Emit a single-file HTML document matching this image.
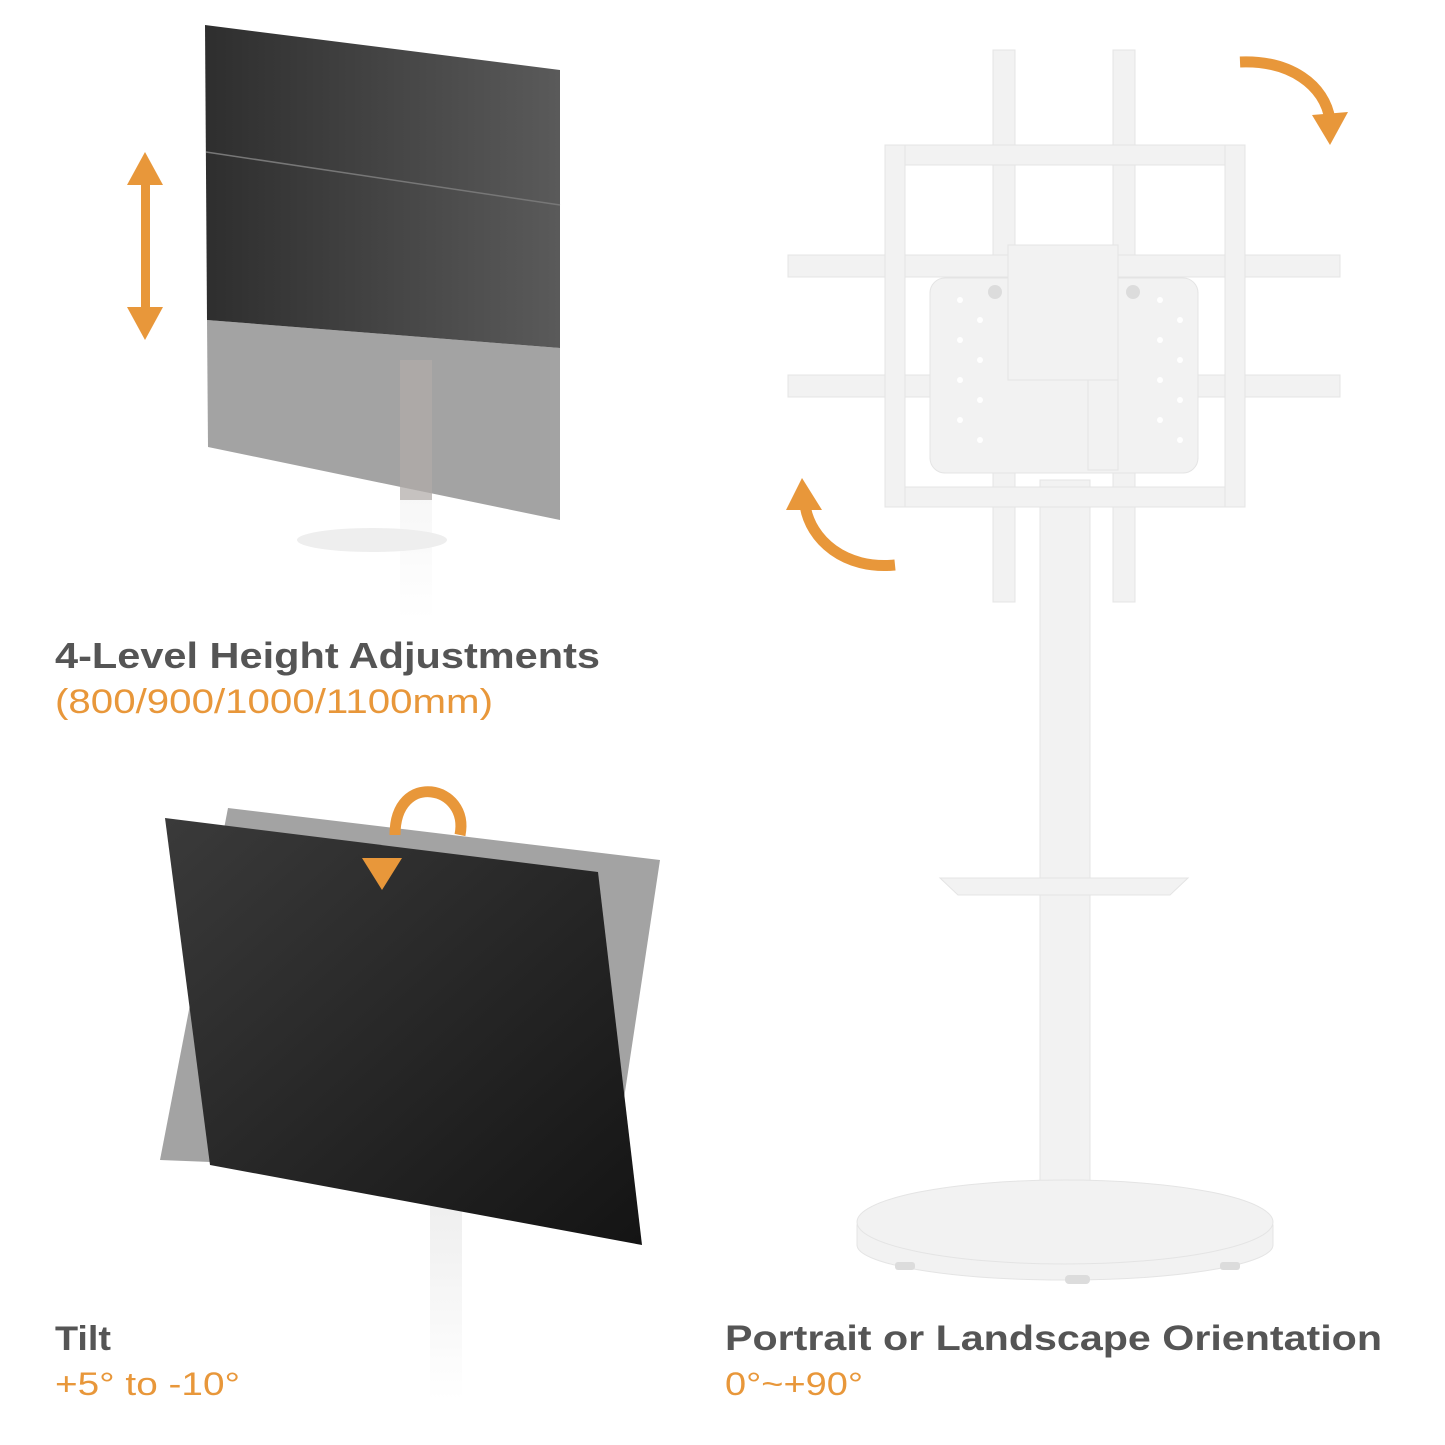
<!DOCTYPE html>
<html><head><meta charset="utf-8"><style>
html,body{margin:0;padding:0;background:#fff;}
svg{display:block}
text{font-family:"Liberation Sans",sans-serif;font-weight:bold;}
</style></head><body>
<svg width="1445" height="1445" viewBox="0 0 1445 1445" xmlns="http://www.w3.org/2000/svg">
<defs>
<linearGradient id="dk" x1="0" y1="0" x2="1" y2="0"><stop offset="0" stop-color="#2e2e2e"/><stop offset="1" stop-color="#5a5a5a"/></linearGradient>
<linearGradient id="dk2" x1="0" y1="0" x2="1" y2="1"><stop offset="0" stop-color="#3a3a3a"/><stop offset="1" stop-color="#141414"/></linearGradient>
<linearGradient id="fade" x1="0" y1="0" x2="0" y2="1"><stop offset="0" stop-color="#eee"/><stop offset="1" stop-color="#fff"/></linearGradient>
</defs>

<rect x="400" y="360" width="32" height="260" fill="url(#fade)"/>
<ellipse cx="372" cy="540" rx="75" ry="12" fill="#eeeeee"/>
<polygon points="207,320 560,348 560,520 208,447" fill="#a3a3a3"/>
<rect x="400" y="360" width="32" height="140" fill="#b0aba8" opacity="0.7"/>
<polygon points="205,25 560,70 560,348 207,320" fill="url(#dk)"/>
<line x1="206" y1="152" x2="560" y2="205" stroke="#777" stroke-width="1.5"/>
<g fill="#e8973a">
<rect x="141" y="180" width="9" height="132"/>
<polygon points="145,152 127,185 163,185"/>
<polygon points="145,340 127,307 163,307"/>
</g>
<text x="55" y="668" font-size="36" fill="#555" textLength="545" lengthAdjust="spacingAndGlyphs">4-Level Height Adjustments</text>
<text x="55" y="713" font-size="34" fill="#e8973a" textLength="438" lengthAdjust="spacingAndGlyphs" style="font-weight:normal">(800/900/1000/1100mm)</text>

<rect x="430" y="1200" width="32" height="200" fill="url(#fade)"/>
<polygon points="228,808 660,860 612,1178 160,1160" fill="#a3a3a3"/>
<polygon points="165,818 598,872 642,1245 210,1165" fill="url(#dk2)"/>
<path d="M395,835 C395,770 470,785 460,835" fill="none" stroke="#e8973a" stroke-width="11"/>
<polygon points="382,890 362,858 402,858" fill="#e8973a"/>
<text x="55" y="1350" font-size="34" fill="#555" textLength="56" lengthAdjust="spacingAndGlyphs">Tilt</text>
<text x="55" y="1395" font-size="32" fill="#e8973a" textLength="185" lengthAdjust="spacingAndGlyphs" style="font-weight:normal">+5° to -10°</text>

<g fill="#f2f2f2" stroke="#e4e4e4" stroke-width="1">
<rect x="1040" y="480" width="50" height="720"/>
<path d="M857,1225 L857,1245 A208,35 0 0 0 1273,1245 L1273,1225 Z"/>
<ellipse cx="1065" cy="1222" rx="208" ry="42"/>
<polygon points="940,878 1188,878 1170,895 958,895"/>
<rect x="993" y="50" width="22" height="552"/>
<rect x="1113" y="50" width="22" height="552"/>
<rect x="788" y="255" width="552" height="22"/>
<rect x="788" y="375" width="552" height="22"/>
<rect x="885" y="145" width="360" height="20"/>
<rect x="885" y="487" width="360" height="20"/>
<rect x="885" y="145" width="20" height="362"/>
<rect x="1225" y="145" width="20" height="362"/>
<rect x="930" y="278" width="268" height="195" rx="15"/>
<rect x="1008" y="245" width="110" height="135"/>
<rect x="1088" y="380" width="30" height="90"/>
</g>
<g fill="#dcdcdc">
<circle cx="995" cy="292" r="7"/><circle cx="1133" cy="292" r="7"/>
<rect x="895" y="1262" width="20" height="8" rx="3"/><rect x="1220" y="1262" width="20" height="8" rx="3"/><rect x="1065" y="1275" width="25" height="9" rx="4"/>
</g>
<g fill="#fff">
<circle cx="960" cy="300" r="3"/><circle cx="980" cy="320" r="3"/><circle cx="960" cy="340" r="3"/><circle cx="980" cy="360" r="3"/><circle cx="960" cy="380" r="3"/><circle cx="980" cy="400" r="3"/><circle cx="960" cy="420" r="3"/><circle cx="980" cy="440" r="3"/>
<circle cx="1160" cy="300" r="3"/><circle cx="1180" cy="320" r="3"/><circle cx="1160" cy="340" r="3"/><circle cx="1180" cy="360" r="3"/><circle cx="1160" cy="380" r="3"/><circle cx="1180" cy="400" r="3"/><circle cx="1160" cy="420" r="3"/><circle cx="1180" cy="440" r="3"/>
</g>
<path d="M1240,62 C1290,60 1325,85 1330,120" fill="none" stroke="#e8973a" stroke-width="11"/>
<polygon points="1330,145 1312,115 1348,112" fill="#e8973a"/>
<path d="M895,565 C845,570 810,540 805,505" fill="none" stroke="#e8973a" stroke-width="11"/>
<polygon points="802,478 786,510 822,510" fill="#e8973a"/>
<text x="725" y="1350" font-size="35" fill="#555" textLength="657" lengthAdjust="spacingAndGlyphs">Portrait or Landscape Orientation</text>
<text x="725" y="1395" font-size="32" fill="#e8973a" textLength="138" lengthAdjust="spacingAndGlyphs" style="font-weight:normal">0°~+90°</text>
</svg>
</body></html>
